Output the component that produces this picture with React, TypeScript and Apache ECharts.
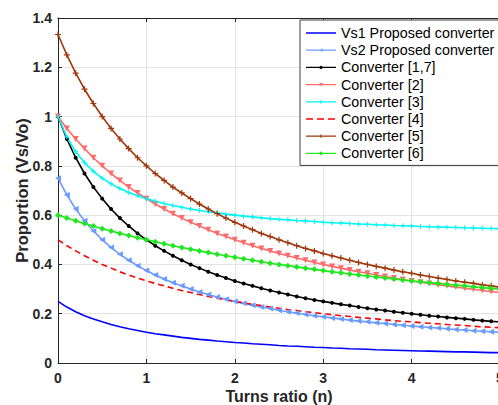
import React, { useEffect, useRef } from "react";
import * as echarts from "echarts";

const nValues = [0, 0.1, 0.2, 0.3, 0.4, 0.5, 0.6, 0.7, 0.8, 0.9, 1, 1.1, 1.2, 1.3, 1.4, 1.5, 1.6, 1.7, 1.8, 1.9, 2, 2.1, 2.2, 2.3, 2.4, 2.5, 2.6, 2.7, 2.8, 2.9, 3, 3.1, 3.2, 3.3, 3.4, 3.5, 3.6, 3.7, 3.8, 3.9, 4, 4.1, 4.2, 4.3, 4.4, 4.5, 4.6, 4.7, 4.8, 4.9, 5];

const vs1Proposed = [0.25, 0.227, 0.208, 0.192, 0.179, 0.167, 0.156, 0.147, 0.139, 0.132, 0.125, 0.119, 0.114, 0.109, 0.104, 0.1, 0.096, 0.093, 0.089, 0.086, 0.083, 0.081, 0.078, 0.076, 0.074, 0.071, 0.069, 0.068, 0.066, 0.064, 0.063, 0.061, 0.06, 0.058, 0.057, 0.056, 0.054, 0.053, 0.052, 0.051, 0.05, 0.049, 0.048, 0.047, 0.046, 0.045, 0.045, 0.044, 0.043, 0.042, 0.042];

const vs2Proposed = [0.75, 0.682, 0.625, 0.577, 0.536, 0.5, 0.469, 0.441, 0.417, 0.395, 0.375, 0.357, 0.341, 0.326, 0.313, 0.3, 0.288, 0.278, 0.268, 0.259, 0.25, 0.242, 0.234, 0.227, 0.221, 0.214, 0.208, 0.203, 0.197, 0.192, 0.188, 0.183, 0.179, 0.174, 0.17, 0.167, 0.163, 0.16, 0.156, 0.153, 0.15, 0.147, 0.144, 0.142, 0.139, 0.136, 0.134, 0.131, 0.129, 0.127, 0.125];

const conv17 = [1, 0.909, 0.833, 0.769, 0.714, 0.667, 0.625, 0.588, 0.556, 0.526, 0.5, 0.476, 0.455, 0.435, 0.417, 0.4, 0.385, 0.37, 0.357, 0.345, 0.333, 0.323, 0.313, 0.303, 0.294, 0.286, 0.278, 0.27, 0.263, 0.256, 0.25, 0.244, 0.238, 0.233, 0.227, 0.222, 0.217, 0.213, 0.208, 0.204, 0.2, 0.196, 0.192, 0.189, 0.185, 0.182, 0.179, 0.175, 0.172, 0.169, 0.167];

const conv2 = [1, 0.952, 0.909, 0.87, 0.833, 0.8, 0.769, 0.741, 0.714, 0.69, 0.667, 0.645, 0.625, 0.606, 0.588, 0.571, 0.556, 0.541, 0.526, 0.513, 0.5, 0.488, 0.476, 0.465, 0.455, 0.444, 0.435, 0.426, 0.417, 0.408, 0.4, 0.392, 0.385, 0.377, 0.37, 0.364, 0.357, 0.351, 0.345, 0.339, 0.333, 0.328, 0.323, 0.317, 0.313, 0.308, 0.303, 0.299, 0.294, 0.29, 0.286];

const conv3 = [1, 0.917, 0.857, 0.813, 0.778, 0.75, 0.727, 0.708, 0.692, 0.679, 0.667, 0.656, 0.647, 0.639, 0.632, 0.625, 0.619, 0.614, 0.609, 0.604, 0.6, 0.596, 0.593, 0.589, 0.586, 0.583, 0.581, 0.578, 0.576, 0.574, 0.571, 0.569, 0.568, 0.566, 0.564, 0.563, 0.561, 0.56, 0.558, 0.557, 0.556, 0.554, 0.553, 0.552, 0.551, 0.55, 0.549, 0.548, 0.547, 0.546, 0.545];

const conv4 = [0.5, 0.476, 0.455, 0.435, 0.417, 0.4, 0.385, 0.37, 0.357, 0.345, 0.333, 0.323, 0.313, 0.303, 0.294, 0.286, 0.278, 0.27, 0.263, 0.256, 0.25, 0.244, 0.238, 0.233, 0.227, 0.222, 0.217, 0.213, 0.208, 0.204, 0.2, 0.196, 0.192, 0.189, 0.185, 0.182, 0.179, 0.175, 0.172, 0.169, 0.167, 0.164, 0.161, 0.159, 0.156, 0.154, 0.152, 0.149, 0.147, 0.145, 0.143];

const conv5 = [1.333, 1.25, 1.176, 1.111, 1.053, 1, 0.952, 0.909, 0.87, 0.833, 0.8, 0.769, 0.741, 0.714, 0.69, 0.667, 0.645, 0.625, 0.606, 0.588, 0.571, 0.556, 0.541, 0.526, 0.513, 0.5, 0.488, 0.476, 0.465, 0.455, 0.444, 0.435, 0.426, 0.417, 0.408, 0.4, 0.392, 0.385, 0.377, 0.37, 0.364, 0.357, 0.351, 0.345, 0.339, 0.333, 0.328, 0.323, 0.317, 0.313, 0.308];

const conv6 = [0.6, 0.588, 0.577, 0.566, 0.556, 0.545, 0.536, 0.526, 0.517, 0.508, 0.5, 0.492, 0.484, 0.476, 0.469, 0.462, 0.455, 0.448, 0.441, 0.435, 0.429, 0.423, 0.417, 0.411, 0.405, 0.4, 0.395, 0.39, 0.385, 0.38, 0.375, 0.37, 0.366, 0.361, 0.357, 0.353, 0.349, 0.345, 0.341, 0.337, 0.333, 0.33, 0.326, 0.323, 0.319, 0.316, 0.313, 0.309, 0.306, 0.303, 0.3];

const seriesNames = [
  "Vs1 Proposed converter",
  "Vs2 Proposed converter",
  "Converter [1,7]",
  "Converter [2]",
  "Converter [3]",
  "Converter [4]",
  "Converter [5]",
  "Converter [6]",
];

const xTicks = [0, 1, 2, 3, 4, 5];

const PLUS = "path://M4,0H6V4H10V6H6V10H4V6H0V4H4Z";
const FONT = "'Liberation Sans', Arial, Helvetica, sans-serif";

// legend icons (30 x 13 box)
const ANCH = "M0,0H0.01V0.01H0Z M29.99,12.99H30V13H29.99Z ";
const LINE = "M0,5.85H30V7.15H0Z ";
const ICON_LINE = "path://" + ANCH + LINE;
const ICON_TRI_L = "path://" + ANCH + LINE + "M13.2,6.5L16.4,4.6V8.4Z";
const ICON_DOT = "path://" + ANCH + LINE + "M13.4,6.5A1.6,1.6 0 1 1 16.6,6.5A1.6,1.6 0 1 1 13.4,6.5Z";
const ICON_TRI_D = "path://" + ANCH + LINE + "M13.2,5H16.8L15,8.3Z";
const ICON_PLUS = "path://" + ANCH + LINE + "M14.5,4.6H15.5V5.85H16.8V7.15H15.5V8.4H14.5V7.15H13.2V5.85H14.5Z";
const ICON_DIAM = "path://" + ANCH + LINE + "M15,4.4L17.1,6.5L15,8.6L12.9,6.5Z";
const ICON_DASH = "path://" + ANCH + "M0,5.85H7V7.15H0Z M11,5.85H18V7.15H11Z M22,5.85H29V7.15H22Z";

const legendIcons = [ICON_LINE, ICON_TRI_L, ICON_DOT, ICON_TRI_D, ICON_PLUS, ICON_DASH, ICON_PLUS, ICON_DIAM];

function pairs(ys: number[]) {
  return ys.map((y, i) => [nValues[i], y]);
}

export default function App() {
  const ref = useRef<HTMLDivElement>(null);
  useEffect(() => {
    if (!ref.current) return;
    const chart = echarts.init(ref.current, null, { renderer: "svg" });
    const mk = (
      name: string,
      ys: number[],
      color: string,
      symbol: string,
      symbolSize: number,
      extra: any = {}
    ) => ({
      name,
      type: "line",
      data: pairs(ys),
      xAxisIndex: 0,
      yAxisIndex: 0,
      showSymbol: symbol !== "none",
      symbol,
      symbolSize,
      smooth: false,
      lineStyle: { color, width: 1.6, type: extra.dash ? [6, 4] : "solid" },
      itemStyle: { color },
      symbolRotate: extra.rotate || 0,
    });
    const option: any = {
      animation: false,
      backgroundColor: "#ffffff",
      grid: { left: 58, top: 18, right: -2, bottom: 42, containLabel: false, outerBoundsMode: "none" },
      xAxis: [
        {
          type: "value",
          min: 0,
          max: 5,
          interval: 1,
          name: "Turns ratio (n)",
          nameLocation: "middle",
          nameGap: 25,
          nameMoveOverlap: false,
          nameTextStyle: { fontFamily: FONT, fontSize: 16, fontWeight: "bold", color: "#262626" },
          axisLine: { show: true, lineStyle: { color: "#262626", width: 1 } },
          axisTick: { show: true, inside: true, length: 4, lineStyle: { color: "#262626" } },
          axisLabel: {
            fontFamily: FONT,
            fontSize: 14,
            fontWeight: "bold",
            color: "#262626",
            margin: 8,
            formatter: (v: number) => (xTicks.includes(v) ? String(v) : ""),
          },
          splitLine: { show: true, lineStyle: { color: "#e3e3e3", width: 1 } },
        },
        {
          type: "value",
          position: "top",
          min: 0,
          max: 5,
          interval: 1,
          axisLine: { show: true, lineStyle: { color: "#262626", width: 1 } },
          axisTick: { show: true, inside: true, length: 4, lineStyle: { color: "#262626" } },
          axisLabel: { show: false },
          splitLine: { show: false },
        },
      ],
      yAxis: [
        {
          type: "value",
          min: 0,
          max: 1.4,
          interval: 0.2,
          name: "Proportion (Vs/Vo)",
          nameLocation: "middle",
          nameGap: 28,
          nameMoveOverlap: false,
          nameTextStyle: { fontFamily: FONT, fontSize: 16.5, fontWeight: "bold", color: "#262626" },
          axisLine: { show: true, lineStyle: { color: "#262626", width: 1 } },
          axisTick: { show: true, inside: true, length: 4, lineStyle: { color: "#262626" } },
          axisLabel: {
            fontFamily: FONT,
            fontSize: 14,
            fontWeight: "bold",
            color: "#262626",
            margin: 6,
            formatter: (v: number) => String(Math.round(v * 10) / 10),
          },
          splitLine: { show: true, lineStyle: { color: "#e3e3e3", width: 1 } },
        },
      ],
      legend: {
        show: true,
        orient: "vertical",
        left: 300,
        top: 20,
        padding: [6, 6, 5, 6],
        itemGap: 3.2,
        itemWidth: 30,
        itemHeight: 13,
        backgroundColor: "#ffffff",
        borderColor: "#3c3c3c",
        borderWidth: 1,
        borderRadius: 0,
        itemStyle: { borderWidth: 0 },
        textStyle: { fontFamily: FONT, fontSize: 14.3, color: "#000000", lineHeight: 13 },
        data: seriesNames.map((name, i) => ({ name, icon: legendIcons[i] })),
      },
      series: [
        mk(seriesNames[0], vs1Proposed, "#0000ff", "none", 0),
        mk(seriesNames[1], vs2Proposed, "#6a9cff", "triangle", 6, { rotate: 90 }),
        mk(seriesNames[2], conv17, "#000000", "circle", 4),
        mk(seriesNames[3], conv2, "#ff6b6b", "triangle", 6, { rotate: 180 }),
        mk(seriesNames[4], conv3, "#00f5f5", PLUS, 5),
        mk(seriesNames[5], conv4, "#ff0000", "none", 0, { dash: true }),
        mk(seriesNames[6], conv5, "#a0360a", PLUS, 6),
        mk(seriesNames[7], conv6, "#1ee81e", "diamond", 6),
      ],
    };
    chart.setOption(option);
    return () => chart.dispose();
  }, []);
  return (
    <div
      ref={ref}
      style={{ position: "absolute", left: 0, top: 0, width: 498, height: 405, background: "#fff" }}
    />
  );
}
